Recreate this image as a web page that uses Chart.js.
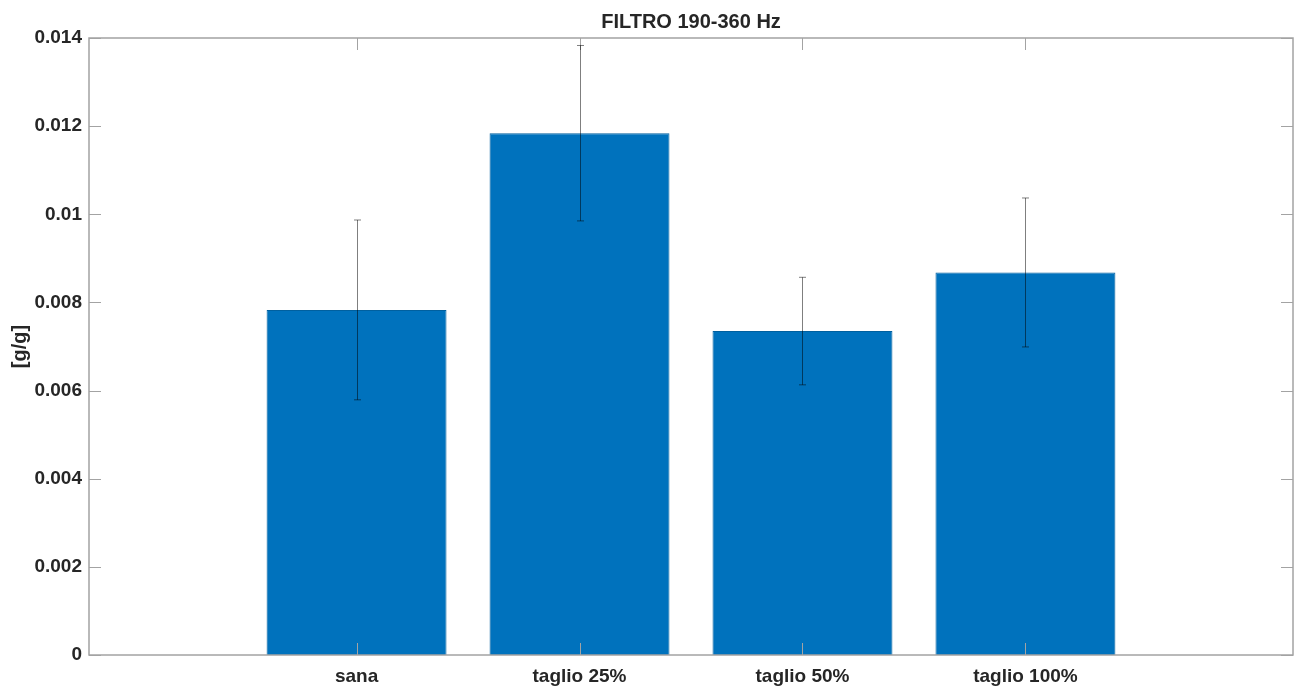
<!DOCTYPE html>
<html>
<head>
<meta charset="utf-8">
<title>FILTRO 190-360 Hz</title>
<script src="https://cdn.jsdelivr.net/npm/chart.js@4/dist/chart.umd.min.js"></script>
<style>
  html, body { margin: 0; padding: 0; background: #ffffff; }
  #wrap { width: 1295px; height: 687px; }
</style>
</head>
<body>
<div id="wrap"><canvas id="c" width="1295" height="687"></canvas></div>
<script>
// Mean response per condition and its standard deviation
const categories = ['sana', 'taglio 25%', 'taglio 50%', 'taglio 100%'];
const positions  = [1, 2, 3, 4];
const means      = [0.00783, 0.01184, 0.00735, 0.00868];
const deviations = [0.00204, 0.00199, 0.00122, 0.00169];
const yTicks     = [0, 0.002, 0.004, 0.006, 0.008, 0.01, 0.012, 0.014];
const chartTitle = 'FILTRO 190-360 Hz';

const TEXT = '#262626';
const AXIS = '#a3a3a3';
const FONT = "'Liberation Sans', Arial, Helvetica, sans-serif";

// Title centred over the plotting area (not the whole canvas)
const axesTitle = {
  id: 'axesTitle',
  afterDraw(chart) {
    const { ctx, chartArea: a } = chart;
    ctx.save();
    ctx.fillStyle = TEXT;
    ctx.font = `bold 20px ${FONT}`;
    ctx.textAlign = 'center';
    ctx.textBaseline = 'alphabetic';
    ctx.fillText(chartTitle, (a.left + a.right) / 2, 28);
    ctx.restore();
  }
};

// Axes box with inward tick marks, drawn on top of the bars
const axesBox = {
  id: 'axesBox',
  afterDatasetsDraw(chart) {
    const { ctx, chartArea: a, scales: { x, y } } = chart;
    const len = 12;
    ctx.save();
    ctx.strokeStyle = AXIS;
    ctx.lineWidth = 1.5;
    ctx.strokeRect(a.left, a.top, a.right - a.left, a.bottom - a.top);
    ctx.lineWidth = 1;
    ctx.beginPath();
    yTicks.forEach(v => {
      const py = Math.round(y.getPixelForValue(v)) + 0.5;
      ctx.moveTo(a.left, py);  ctx.lineTo(a.left + len, py);
      ctx.moveTo(a.right, py); ctx.lineTo(a.right - len, py);
    });
    positions.forEach(v => {
      const px = Math.round(x.getPixelForValue(v)) + 0.5;
      ctx.moveTo(px, a.bottom); ctx.lineTo(px, a.bottom - len);
      ctx.moveTo(px, a.top);    ctx.lineTo(px, a.top + len);
    });
    ctx.stroke();
    ctx.restore();
  }
};

// Vertical error bars (mean ± deviation) with small caps
const errorBars = {
  id: 'errorBars',
  afterDatasetsDraw(chart) {
    const { ctx, scales: { y } } = chart;
    const meta = chart.getDatasetMeta(0);
    const cap = 3.5;
    ctx.save();
    ctx.strokeStyle = 'rgba(0,0,0,0.5)';
    ctx.lineWidth = 1;
    meta.data.forEach((bar, i) => {
      const px = Math.round(bar.x) + 0.5;
      const hi = y.getPixelForValue(means[i] + deviations[i]);
      const lo = y.getPixelForValue(means[i] - deviations[i]);
      ctx.beginPath();
      ctx.moveTo(px, hi); ctx.lineTo(px, lo);
      ctx.moveTo(px - cap, hi); ctx.lineTo(px + cap, hi);
      ctx.moveTo(px - cap, lo); ctx.lineTo(px + cap, lo);
      ctx.stroke();
    });
    ctx.restore();
  }
};

new Chart(document.getElementById('c'), {
  type: 'bar',
  data: {
    datasets: [{
      data: positions.map((p, i) => ({ x: p, y: means[i] })),
      backgroundColor: '#0072bd',
      borderColor: '#00609f',
      borderWidth: 1,
      categoryPercentage: 1,
      barPercentage: 0.807
    }]
  },
  options: {
    responsive: false,
    animation: false,
    events: [],
    layout: { padding: { left: 0, right: 2, top: 38, bottom: 0 } },
    plugins: {
      legend: { display: false },
      tooltip: { enabled: false },
      title: { display: false }
    },
    scales: {
      x: {
        type: 'linear',
        min: -0.2,
        max: 5.2,
        offset: false,
        grid: { display: false, drawTicks: false },
        border: { display: false },
        afterBuildTicks: s => { s.ticks = positions.map(v => ({ value: v })); },
        afterFit: s => { s.height = 32; },
        ticks: {
          autoSkip: false,
          maxRotation: 0,
          padding: 10,
          color: TEXT,
          font: { family: FONT, size: 19, weight: 'bold' },
          callback: v => categories[positions.indexOf(v)] ?? ''
        }
      },
      y: {
        min: 0,
        max: 0.014,
        grid: { display: false, drawTicks: false },
        border: { display: false },
        afterBuildTicks: s => { s.ticks = yTicks.map(v => ({ value: v })); },
        afterFit: s => { s.width = 89; },
        ticks: {
          padding: 7,
          color: TEXT,
          font: { family: FONT, size: 19, weight: 'bold' },
          callback: v => String(parseFloat(Number(v).toFixed(4)))
        },
        title: {
          display: true,
          text: '[g/g]',
          color: TEXT,
          font: { family: FONT, size: 20, weight: 'bold', lineHeight: 1.2 },
          padding: { top: 8, bottom: 0 }
        }
      }
    }
  },
  plugins: [axesBox, errorBars, axesTitle]
});
</script>
</body>
</html>
